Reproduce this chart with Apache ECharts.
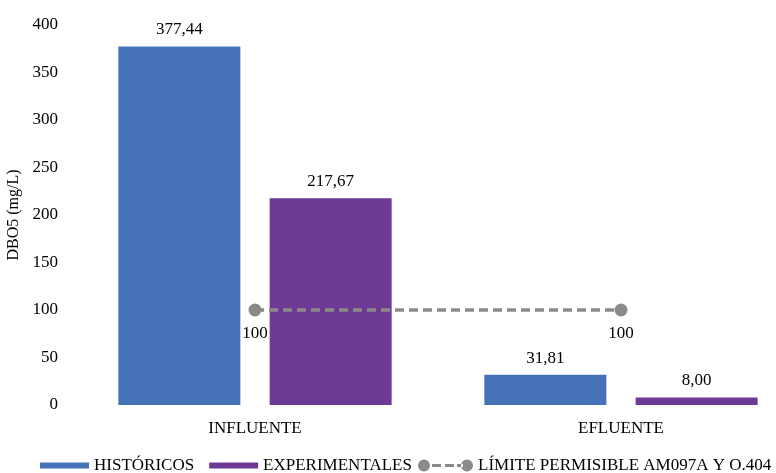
<!DOCTYPE html>
<html>
<head>
<meta charset="utf-8">
<script src="https://cdn.jsdelivr.net/npm/echarts@6/dist/echarts.min.js"></script>
<style>
  html, body { margin: 0; padding: 0; background: #fff; }
  #chart { width: 776px; height: 473px; }
</style>
</head>
<body>
<div id="chart"></div>
<script>
var categories = ['INFLUENTE', 'EFLUENTE'];
var historicos = [377.44, 31.81];
var experimentales = [217.67, 8.00];
var limite = [100, 100];
var yTicks = [0, 50, 100, 150, 200, 250, 300, 350, 400];

var font = '"Liberation Serif", "Times New Roman", serif';
var lineName = 'LÍMITE PERMISIBLE AM097A Y O.404';

// dot - dash - dash - dot, like the legend key in the original
var lineIcon = 'path://M0,6a6,6 0 1,0 12,0a6,6 0 1,0 -12,0Z' +
    'M14,4.5h9v3h-9Z M27,4.5h9v3h-9Z M39,4.5h6v3h-6Z' +
    'M43,6a6,6 0 1,0 12,0a6,6 0 1,0 -12,0Z';

function comma(v) {
    return v.toFixed(2).replace('.', ',');
}

var barLabel = {
    show: true,
    position: 'top',
    distance: 8,
    color: '#000',
    fontSize: 17,
    fontFamily: font,
    formatter: function (p) { return comma(p.value); }
};

var myChart = echarts.init(document.getElementById('chart'));
var option = {
    animation: false,
    textStyle: { fontFamily: font },
    grid: { left: 72, top: 25, width: 732, height: 380, outerBoundsMode: 'none', containLabel: false },
    legend: [{
        top: 452,
        left: 35,
        itemWidth: 49,
        itemHeight: 6,
        itemGap: 15,
        textStyle: { fontFamily: font, fontSize: 17, color: '#000' },
        data: [
            { name: 'HISTÓRICOS', icon: 'rect' },
            { name: 'EXPERIMENTALES', icon: 'rect' }
        ]
    }, {
        top: 452,
        left: 413,
        itemWidth: 55,
        itemHeight: 12,
        textStyle: { fontFamily: font, fontSize: 17, color: '#000' },
        data: [{ name: lineName, icon: lineIcon }]
    }],
    xAxis: {
        type: 'category',
        data: categories,
        axisLine: { show: false },
        axisTick: { show: false },
        axisLabel: { color: '#000', fontSize: 17, fontFamily: font, margin: 15 }
    },
    yAxis: {
        type: 'value',
        min: yTicks[0],
        max: yTicks[yTicks.length - 1],
        interval: 50,
        name: 'DBO5 (mg/L)',
        nameLocation: 'middle',
        nameGap: 42,
        nameTextStyle: { color: '#000', fontSize: 16, fontFamily: font },
        axisLine: { show: false },
        axisTick: { show: false },
        splitLine: { show: false },
        axisLabel: { color: '#000', fontSize: 17, fontFamily: font, margin: 14 }
    },
    series: [
        {
            name: 'HISTÓRICOS',
            type: 'bar',
            data: historicos,
            barWidth: 122,
            barGap: '24%',
            itemStyle: { color: '#4672b8' },
            label: barLabel
        },
        {
            name: 'EXPERIMENTALES',
            type: 'bar',
            data: experimentales,
            barWidth: 122,
            itemStyle: { color: '#6e3a96' },
            label: barLabel
        },
        {
            name: lineName,
            type: 'line',
            data: limite,
            symbol: 'circle',
            symbolSize: 13,
            itemStyle: { color: '#8a8a8a' },
            lineStyle: { color: '#8a8a8a', width: 3.5, type: [9, 5] },
            z: 5,
            label: {
                show: true,
                position: 'bottom',
                distance: 9,
                color: '#000',
                fontSize: 17,
                fontFamily: font
            }
        }
    ]
};

option && myChart.setOption(option);
</script>
</body>
</html>
